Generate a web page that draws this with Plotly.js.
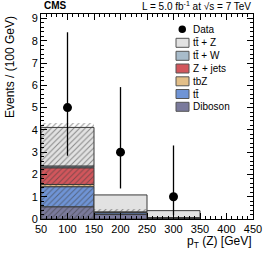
<!DOCTYPE html>
<html>
<head>
<meta charset="utf-8">
<script src="https://cdn.plot.ly/plotly-3.0.1.min.js"></script>
<style>html,body{margin:0;padding:0;background:#fff;}#chart{width:266px;height:258px;}</style>
</head>
<body>
<div id="chart"></div>
<script>
// ---- data ----
const binCenters = [100, 200, 300];
const binWidth = [100, 100, 100];
const diboson = [0.55, 0.20, 0.03];
const ttbar   = [0.90, 0.08, 0.01];
const tbZ     = [0.10, 0.01, 0.005];
const zjets   = [0.75, 0.01, 0.01];
const ttW     = [0.08, 0.02, 0.01];
const ttZ     = [1.73, 0.76, 0.31];
const uncLow  = [0.00, 0.30, 0.03];
const uncHigh = [4.29, 0.46, 0.10];
const dataY      = [5, 3, 1];
const dataErrUp  = [3.38, 2.92, 2.30];
const dataErrLow = [2.16, 1.63, 0.83];
const legendLabels = ['Data', 'tt\u0304 + Z', 'tt\u0304 + W', 'Z + jets', 'tbZ', 'tt\u0304', 'Diboson'];

// ---- styles ----
const stackOrder = [
  {name: 'Diboson', y: diboson, color: '#7a7a9c'},
  {name: 'tt\u0304', y: ttbar, color: '#6f94d6'},
  {name: 'tbZ', y: tbZ, color: '#e3bf88'},
  {name: 'Z + jets', y: zjets, color: '#d2565c'},
  {name: 'tt\u0304 + W', y: ttW, color: '#a8bccb'},
  {name: 'tt\u0304 + Z', y: ttZ, color: '#e2e2e2'}
];
const legendColors = {'tt\u0304 + Z': '#e2e2e2', 'tt\u0304 + W': '#a8bccb', 'Z + jets': '#d2565c', 'tbZ': '#e3bf88', 'tt\u0304': '#6f94d6', 'Diboson': '#7a7a9c'};

const traces = [];
let base = binCenters.map(() => 0);
stackOrder.forEach(s => {
  traces.push({
    type: 'bar', x: binCenters, y: s.y, base: base.slice(), width: binWidth,
    marker: {color: s.color, line: {color: '#3a3a3a', width: 1}},
    showlegend: false, hoverinfo: 'skip'
  });
  base = base.map((b, i) => b + s.y[i]);
});
traces.push({
  type: 'bar', x: binCenters, y: uncHigh.map((h, i) => h - uncLow[i]), base: uncLow, width: binWidth,
  marker: {color: 'rgba(0,0,0,0)', line: {width: 0},
    pattern: {shape: '/', fgcolor: 'rgba(60,60,60,0.55)', bgcolor: 'rgba(0,0,0,0)', size: 4, solidity: 0.25}},
  showlegend: false, hoverinfo: 'skip'
});
traces.push({
  type: 'scatter', mode: 'markers', x: binCenters, y: dataY,
  marker: {color: '#000', size: 9},
  error_y: {type: 'data', symmetric: false, array: dataErrUp, arrayminus: dataErrLow, color: '#000', thickness: 1.3, width: 0},
  showlegend: false
});

// plot geometry (px)
const L = 41, R = 253, T = 14, B = 219;
const px2x = p => (p - L) / (R - L);
const px2y = p => (B - p) / (B - T);

const shapes = [];
const annotations = [];
const rowY = [29.3, 42.8, 55.8, 68.5, 81.3, 94, 106.8];
legendLabels.forEach((lab, i) => {
  const yc = rowY[i];
  if (i === 0) {
    shapes.push({type: 'circle', xref: 'paper', yref: 'paper',
      x0: px2x(178.5), x1: px2x(186), y0: px2y(yc + 3.8), y1: px2y(yc - 3.8),
      fillcolor: '#000', line: {color: '#000', width: 0}});
  } else {
    shapes.push({type: 'rect', xref: 'paper', yref: 'paper',
      x0: px2x(176), x1: px2x(189), y0: px2y(yc + 4.5), y1: px2y(yc - 4.5),
      fillcolor: legendColors[lab], line: {color: '#555', width: 1}});
  }
  annotations.push({xref: 'paper', yref: 'paper', x: px2x(191), y: px2y(yc), xanchor: 'left', yanchor: 'middle',
    text: lab, showarrow: false, font: {family: 'Liberation Sans, Arial, sans-serif', size: 10, color: '#000'}});
});
annotations.push({xref: 'paper', yref: 'paper', x: 0.005, y: px2y(6), xanchor: 'left', yanchor: 'middle',
  text: '<b>CMS</b>', showarrow: false, font: {family: 'Liberation Sans, Arial, sans-serif', size: 10, color: '#000'}});
annotations.push({xref: 'paper', yref: 'paper', x: 1, y: px2y(6), xanchor: 'right', yanchor: 'middle',
  text: 'L = 5.0 fb<sup>-1</sup> at \u221As = 7 TeV', showarrow: false, font: {family: 'Liberation Sans, Arial, sans-serif', size: 10, color: '#000'}});
annotations.push({xref: 'paper', yref: 'paper', x: 1, y: px2y(242), xanchor: 'right', yanchor: 'middle',
  text: 'p<sub>T</sub> (Z) [GeV]', showarrow: false, font: {family: 'Liberation Sans, Arial, sans-serif', size: 12, color: '#000'}});
annotations.push({xref: 'paper', yref: 'paper', x: px2x(10), y: 1.0, xanchor: 'center', yanchor: 'top', textangle: -90,
  text: 'Events / (100 GeV)', showarrow: false, font: {family: 'Liberation Sans, Arial, sans-serif', size: 12, color: '#000'}});

const axisFont = {family: 'Liberation Sans, Arial, sans-serif', size: 11, color: '#000'};
const layout = {
  width: 266, height: 258,
  margin: {l: L, r: 266 - R, t: T, b: 258 - B, pad: 0},
  paper_bgcolor: '#fff', plot_bgcolor: '#fff',
  barmode: 'overlay', bargap: 0, showlegend: false,
  font: axisFont,
  xaxis: {range: [50, 450], tickmode: 'linear', tick0: 50, dtick: 50, ticks: 'inside', ticklen: 6, tickcolor: '#000',
    showline: true, linecolor: '#000', linewidth: 1, mirror: 'allticks', showgrid: false, zeroline: false,
    tickfont: axisFont, ticklabelstandoff: 0,
    minor: {dtick: 10, ticks: 'inside', ticklen: 3, tickcolor: '#000', showgrid: false}},
  yaxis: {range: [0, 9.2], tickmode: 'linear', tick0: 0, dtick: 1, ticks: 'inside', ticklen: 6, tickcolor: '#000',
    showline: true, linecolor: '#000', linewidth: 1, mirror: 'allticks', showgrid: false, zeroline: false,
    tickfont: axisFont,
    minor: {dtick: 0.2, ticks: 'inside', ticklen: 3, tickcolor: '#000', showgrid: false}},
  shapes: shapes, annotations: annotations
};
Plotly.newPlot('chart', traces, layout, {staticPlot: true, displayModeBar: false});
</script>
</body>
</html>
